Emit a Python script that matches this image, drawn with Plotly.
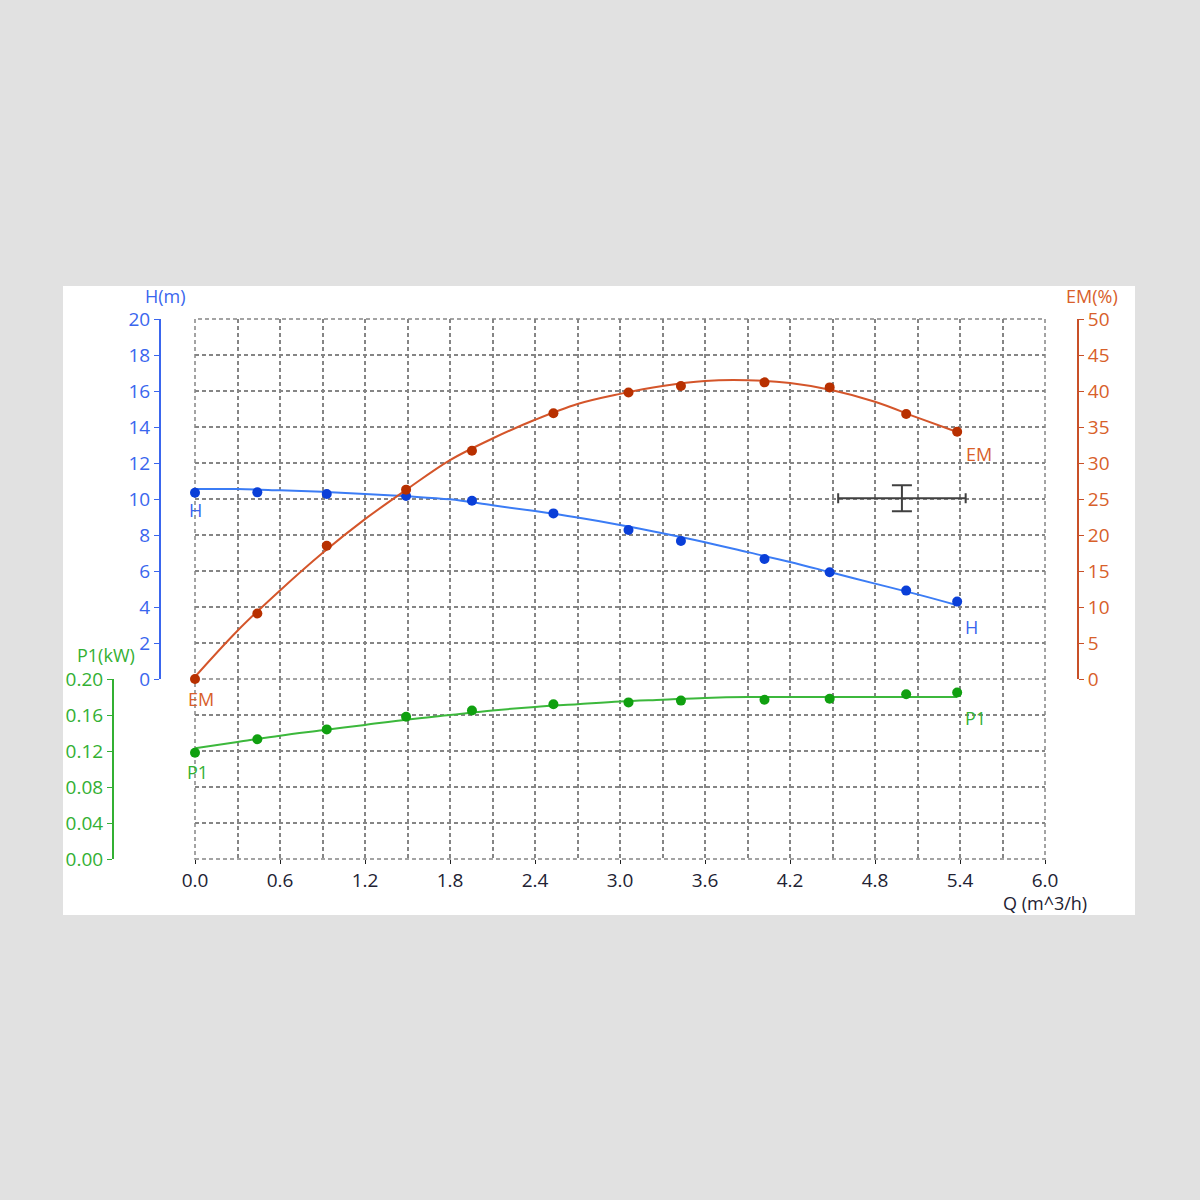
import plotly.graph_objects as go

# ---- measured points ----
q_pts = [0.0, 0.44, 0.93, 1.49, 1.955, 2.53, 3.06, 3.43, 4.02, 4.48, 5.02, 5.38]
h_pts = [10.35, 10.37, 10.28, 10.17, 9.90, 9.20, 8.28, 7.67, 6.67, 5.93, 4.91, 4.30]
em_pts = [0.0, 9.1, 18.5, 26.3, 31.7, 36.9, 39.8, 40.7, 41.2, 40.5, 36.8, 34.35]
p1_pts = [0.118, 0.133, 0.144, 0.158, 0.165, 0.172, 0.174, 0.176, 0.177, 0.178, 0.183, 0.185]

# ---- fitted curves ----
q_fit = [0.0, 0.3, 0.6, 0.9, 1.2, 1.5, 1.8, 2.1, 2.4, 2.7, 3.0, 3.3, 3.6, 3.9, 4.2, 4.5, 4.8, 5.1, 5.38]
h_fit = [10.55, 10.55, 10.48, 10.40, 10.28, 10.15, 9.98, 9.65, 9.33, 8.97, 8.56, 8.10, 7.60, 7.05, 6.50, 5.90, 5.30, 4.70, 4.10]
em_fit = [0.3, 6.7, 12.3, 17.5, 22.2, 26.4, 30.4, 33.4, 36.0, 38.2, 39.6, 40.7, 41.4, 41.5, 41.1, 40.1, 38.5, 36.3, 34.3]
p1_fit = [0.123, 0.130, 0.137, 0.143, 0.149, 0.155, 0.160, 0.165, 0.169, 0.172, 0.175, 0.177, 0.179, 0.180, 0.180, 0.180, 0.180, 0.180, 0.180]

# ---- operating point cross ----
op_q = [4.99]
op_h = [10.04]
op_q_minus = [0.45]
op_q_plus = [0.45]
op_h_err = [0.72]

# ---- axis ticks ----
x_ticks = [0.0, 0.6, 1.2, 1.8, 2.4, 3.0, 3.6, 4.2, 4.8, 5.4, 6.0]
x_ticklabels = ["0.0", "0.6", "1.2", "1.8", "2.4", "3.0", "3.6", "4.2", "4.8", "5.4", "6.0"]
h_ticks = [0, 2, 4, 6, 8, 10, 12, 14, 16, 18, 20]
em_ticks = [0, 5, 10, 15, 20, 25, 30, 35, 40, 45, 50]
p1_ticks = [0.0, 0.04, 0.08, 0.12, 0.16, 0.20]
p1_ticklabels = ["0.00", "0.04", "0.08", "0.12", "0.16", "0.20"]

BLUE_M = "#0a3fd8"
BLUE_L = "#3b7cf5"
BLUE_T = "#3a66ee"
RED_M = "#b83000"
RED_L = "#d4552a"
RED_T = "#d8602a"
RED_AX = "#c85028"
GRN_M = "#10a010"
GRN_L = "#3cb83c"
GRN_T = "#33b033"
GRID = "#858585"
GDASH = "4px,3px"
FONT = "Open Sans"
FS = 19
FT = 18

fig = go.Figure()

# H
fig.add_trace(go.Scatter(x=q_fit, y=h_fit, mode="lines", line=dict(color=BLUE_L, width=2, shape="spline"),
                         xaxis="x", yaxis="y2", hoverinfo="skip", showlegend=False))
fig.add_trace(go.Scatter(x=q_pts, y=h_pts, mode="markers", marker=dict(color=BLUE_M, size=10),
                         cliponaxis=False, xaxis="x", yaxis="y2", showlegend=False))
# EM
fig.add_trace(go.Scatter(x=q_fit, y=em_fit, mode="lines", line=dict(color=RED_L, width=2, shape="spline"),
                         xaxis="x", yaxis="y3", hoverinfo="skip", showlegend=False))
fig.add_trace(go.Scatter(x=q_pts, y=em_pts, mode="markers", marker=dict(color=RED_M, size=10),
                         cliponaxis=False, xaxis="x", yaxis="y3", showlegend=False))
# P1
fig.add_trace(go.Scatter(x=q_fit, y=p1_fit, mode="lines", line=dict(color=GRN_L, width=2, shape="spline"),
                         xaxis="x", yaxis="y", hoverinfo="skip", showlegend=False))
fig.add_trace(go.Scatter(x=q_pts, y=p1_pts, mode="markers", marker=dict(color=GRN_M, size=10),
                         cliponaxis=False, xaxis="x", yaxis="y", showlegend=False))
# operating point cross
fig.add_trace(go.Scatter(x=op_q, y=op_h, mode="markers", marker=dict(size=1, color="rgba(0,0,0,0)"),
                         error_x=dict(type="data", symmetric=False, array=op_q_plus, arrayminus=op_q_minus,
                                      color="#404040", thickness=2, width=5),
                         error_y=dict(type="data", array=op_h_err, color="#404040", thickness=2, width=10),
                         xaxis="x", yaxis="y2", showlegend=False))

# curve labels
labels = [
    (q_pts[0], h_pts[0], "H", BLUE_T, "y2", 0, 17),
    (q_pts[-1], h_pts[-1], "H", BLUE_T, "y2", 14, 25),
    (q_pts[0], em_pts[0], "EM", RED_T, "y3", 6, 20),
    (q_pts[-1], em_pts[-1], "EM", RED_T, "y3", 22, 22),
    (q_pts[0], p1_pts[0], "P1", GRN_T, "y", 2, 19),
    (q_pts[-1], p1_pts[-1], "P1", GRN_T, "y", 18, 25),
]
annotations = []
for x, y, t, c, yr, dx, dy in labels:
    annotations.append(dict(x=x, y=y, xref="x", yref=yr, text=t, showarrow=False,
                            xanchor="center", yanchor="middle",
                            xshift=dx, yshift=-dy, font=dict(color=c, size=FT, family=FONT)))

W = 1072.0
H = 540.0
def px(xp):
    return (xp - 63) / W
def py(yp):
    return (859 - yp) / H

def title(xp, yp, text, color):
    return dict(x=px(xp), y=py(yp), xref="paper", yref="paper", text=text, showarrow=False,
                xanchor="center", yanchor="middle", borderpad=0,
                font=dict(color=color, size=FT, family=FONT))

annotations += [
    title(165, 296, "H(m)", BLUE_T),
    title(1092, 296, "EM(%)", RED_T),
    title(106, 655, "P1(kW)", GRN_T),
    title(1045, 903, "Q (m^3/h)", "#222233"),
]

grid_common = dict(showgrid=True, gridcolor=GRID, gridwidth=1.5, griddash=GDASH, zeroline=False)

shapes = [
    dict(type="rect", xref="paper", yref="paper", x0=0, x1=1, y0=py(915), y1=py(286),
         fillcolor="white", line=dict(width=0), layer="below"),
    dict(type="rect", xref="paper", yref="paper", x0=px(195), x1=px(1045), y0=0, y1=1,
         line=dict(color=GRID, width=1.5, dash=GDASH), layer="below"),
    dict(type="line", xref="paper", yref="paper", x0=px(195), x1=px(1045), y0=1/3, y1=1/3,
         line=dict(color=GRID, width=1.5, dash=GDASH), layer="below"),
]

fig.update_layout(
    width=1200, height=1200,
    paper_bgcolor="#e1e1e1", plot_bgcolor="rgba(0,0,0,0)",
    margin=dict(l=63, r=65, t=319, b=341),
    font=dict(family=FONT, size=FS),
    annotations=annotations,
    shapes=shapes,
    xaxis=dict(domain=[px(195), px(1045)], range=[0, 6], anchor="y",
               tickvals=x_ticks, ticktext=x_ticklabels, ticks="outside", ticklen=4, tickcolor="#222222",
               tickfont=dict(color="#222233", size=FS, family=FONT), showline=False,
               minor=dict(dtick=0.3, tick0=0, showgrid=True, gridcolor=GRID, gridwidth=1.5, griddash=GDASH),
               **grid_common),
    yaxis=dict(domain=[0, 1/3], range=[0, 0.2], anchor="free", position=px(113),
               tickvals=p1_ticks, ticktext=p1_ticklabels, ticks="outside", ticklen=5, tickcolor=GRN_T,
               tickfont=dict(color=GRN_T, size=FS, family=FONT), showline=True, linecolor=GRN_T, linewidth=2,
               **grid_common),
    yaxis2=dict(domain=[1/3, 1], range=[0, 20], anchor="free", position=px(160),
                tickvals=h_ticks, ticks="outside", ticklen=5, tickcolor=BLUE_T,
                tickfont=dict(color=BLUE_T, size=FS, family=FONT), showline=True, linecolor=BLUE_T, linewidth=2,
                **grid_common),
    yaxis3=dict(domain=[1/3, 1], range=[0, 50], anchor="free", position=px(1078), overlaying="y2", side="right",
                tickvals=em_ticks, ticks="outside", ticklen=5, tickcolor=RED_AX,
                tickfont=dict(color=RED_T, size=FS, family=FONT), showline=True, linecolor=RED_AX, linewidth=2,
                showgrid=False, zeroline=False),
)

fig.write_html("out.html", config={"displayModeBar": False},
               post_script="document.body.style.margin='0px';")
